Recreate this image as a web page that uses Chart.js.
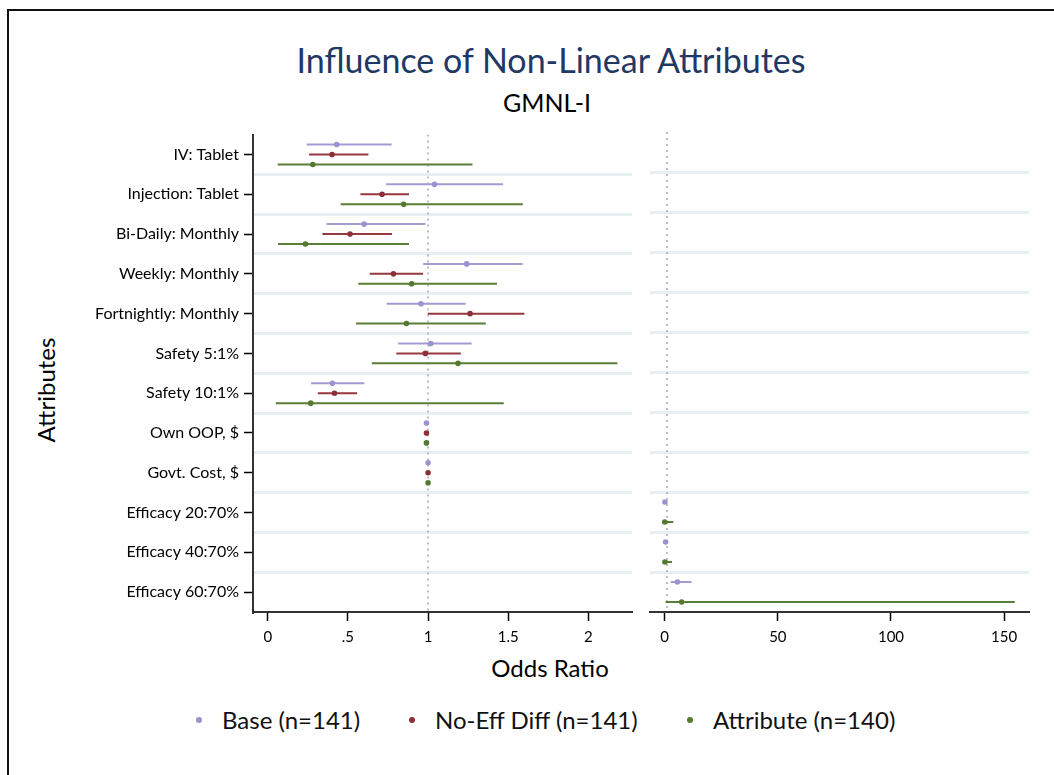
<!DOCTYPE html>
<html><head><meta charset="utf-8">
<script src="https://cdn.jsdelivr.net/npm/chart.js@4.4.0/dist/chart.umd.min.js"></script>
<style>
html,body{margin:0;padding:0;background:#fff;width:1054px;height:775px;overflow:hidden;font-family:Lato,sans-serif;color:#000;}
#frame{position:absolute;left:7px;top:9px;width:1100px;height:800px;border:2px solid #111;box-sizing:border-box;}
.t{position:absolute;white-space:nowrap;transform:translate(-50%,-50%);line-height:1;}
.wrap{position:absolute;}
.lg{position:absolute;white-space:nowrap;transform:translateY(-50%);font-size:24px;line-height:1;color:#111;}
.dot{position:absolute;width:6px;height:6px;border-radius:50%;transform:translate(-50%,-50%);}
</style></head><body>
<div id="frame"></div>
<div class="t" style="left:551px;top:60px;font-size:34px;color:#1f3864;">Influence of Non-Linear Attributes</div>
<div class="t" style="left:547px;top:102px;font-size:25px;">GMNL-I</div>
<div class="t" style="left:46px;top:390px;font-size:24px;transform:translate(-50%,-50%) rotate(-90deg);">Attributes</div>
<div class="t" style="left:550px;top:668px;font-size:24px;">Odds Ratio</div>
<div id="legend"></div>
<div class="wrap" style="left:60px;top:120px;width:585px;height:532px"><canvas id="c1"></canvas></div>
<div class="wrap" style="left:640px;top:120px;width:414px;height:532px"><canvas id="c2"></canvas></div>
<script>
// ---- data ----
const categories = ['IV: Tablet','Injection: Tablet','Bi-Daily: Monthly','Weekly: Monthly','Fortnightly: Monthly','Safety 5:1%','Safety 10:1%','Own OOP, $','Govt. Cost, $','Efficacy 20:70%','Efficacy 40:70%','Efficacy 60:70%'];
const seriesNames = ['Base (n=141)','No-Eff Diff (n=141)','Attribute (n=140)'];

const baseOR = [0.430, 1.040, 0.601, 1.241, 0.956, 1.017, 0.403, 0.99, 1.00, 0.1, 0.4, 5.6];
const baseLo = [0.243, 0.738, 0.366, 0.969, 0.742, 0.813, 0.270, 0.99, 1.00, 0.1, 0.4, 2.6];
const baseHi = [0.773, 1.468, 0.983, 1.591, 1.235, 1.272, 0.603, 0.99, 1.00, 0.1, 0.4, 11.9];

const noEffOR = [0.401, 0.713, 0.513, 0.784, 1.262, 0.983, 0.416, 0.99, 1.00, null, null, null];
const noEffLo = [0.258, 0.578, 0.341, 0.636, 0.998, 0.802, 0.312, 0.99, 1.00, null, null, null];
const noEffHi = [0.628, 0.881, 0.775, 0.969, 1.601, 1.204, 0.557, 0.99, 1.00, null, null, null];

const attrOR = [0.281, 0.848, 0.235, 0.898, 0.865, 1.187, 0.268, 0.99, 1.00, 0.02, 0.1, 7.5];
const attrLo = [0.062, 0.455, 0.064, 0.565, 0.551, 0.649, 0.050, 0.99, 1.00, 0.0, 0.0, 0.4];
const attrHi = [1.277, 1.591, 0.881, 1.430, 1.360, 2.181, 1.472, 0.99, 1.00, 3.8, 3.2, 154.7];

const leftRows = [0,1,2,3,4,5,6,7,8];
const rightRows = [9,10,11];
const leftTickValues = [0, 0.5, 1, 1.5, 2];
const leftTickLabels = ['0', '.5', '1', '1.5', '2'];
const rightTickValues = [0, 50, 100, 150];
const rightTickLabels = ['0', '50', '100', '150'];
const referenceOR = 1;

// ---- styling ----
const series = [
  {name: seriesNames[0], color:'#9b93cf', line:'#a39cd4', or: baseOR, lo: baseLo, hi: baseHi, off:-0.25},
  {name: seriesNames[1], color:'#8e2f37', line:'#953840', or: noEffOR, lo: noEffLo, hi: noEffHi, off:0},
  {name: seriesNames[2], color:'#55792f', line:'#5a7e35', or: attrOR, lo: attrLo, hi: attrHi, off:0.25}
];

Chart.defaults.font.family = 'Lato, sans-serif';
Chart.defaults.color = '#000';

function buildDatasets(rows) {
  const ds = [{
    type:'line', data:[{x:referenceOR,y:-0.5},{x:referenceOR,y:categories.length-0.5}],
    borderColor:'#a6a6b8', borderWidth:1.5, borderDash:[2,4], pointRadius:0, order:10
  }];
  series.forEach(s => {
    const ci = [], pts = [];
    rows.forEach(i => {
      if (s.or[i] == null) return;
      const y = i + s.off;
      ci.push({x:s.lo[i], y}, {x:s.hi[i], y}, {x:null, y:null});
      pts.push({x:s.or[i], y});
    });
    ds.push({type:'line', data:ci, borderColor:s.line, borderWidth:2, pointRadius:0, spanGaps:false, order:5});
    ds.push({type:'scatter', data:pts, backgroundColor:s.color, borderColor:s.color, pointRadius:2.8, pointBorderWidth:0, order:1});
  });
  return ds;
}

function makeChart(id, rows, xMin, xMax, tickVals, tickLabels, isLeft, axisWidth, padRight) {
  const halfTicks = [];
  for (let k = 0; k <= (categories.length - 1) * 2; k++) halfTicks.push({value: k / 2});
  return new Chart(document.getElementById(id), {
    type:'scatter',
    data:{datasets: buildDatasets(rows)},
    options:{
      responsive:true, maintainAspectRatio:false, animation:false,
      layout:{padding:{top:12, right:padRight, left:0, bottom:0}},
      plugins:{legend:{display:false}, tooltip:{enabled:false}},
      scales:{
        x:{
          type:'linear', min:xMin, max:xMax,
          afterBuildTicks: s => { s.ticks = tickVals.map(v => ({value:v})); },
          afterFit: s => { s.height = 40; },
          ticks:{ callback: (v) => { const k = tickVals.indexOf(v); return k >= 0 ? tickLabels[k] : ''; },
                  font:{size:15}, padding:7, maxRotation:0, autoSkip:false, color:'#000' },
          grid:{ drawOnChartArea:false, drawTicks:true, tickLength:9, tickColor:'#000', tickWidth:1.5 },
          border:{ display:true, color:'#333', width:2 }
        },
        y:{
          type:'linear', reverse:true, min:-0.5, max:categories.length - 0.5,
          afterBuildTicks: s => { s.ticks = halfTicks.map(t => ({value:t.value})); },
          afterFit: s => { s.width = axisWidth; },
          ticks:{ display:isLeft, autoSkip:false, padding:5, font:{size:16}, color:'#000',
                  callback: (v) => (Number.isInteger(v) ? categories[v] : '') },
          grid:{
            drawOnChartArea:true, drawTicks:isLeft, tickLength:9, tickWidth:1.5, lineWidth:3,
            color: c => (c.tick && c.tick.value % 1 !== 0) ? '#e8eff1' : 'rgba(0,0,0,0)',
            tickColor: c => (c.tick && c.tick.value % 1 === 0) ? '#000' : 'rgba(0,0,0,0)'
          },
          border:{ display:isLeft, color:'#333', width:2 }
        }
      }
    }
  });
}

makeChart('c1', leftRows, -0.092, 2.272, leftTickValues, leftTickLabels, true, 193, 13);
makeChart('c2', rightRows, -6.5, 161, rightTickValues, rightTickLabels, false, 10, 25);

// legend
const legendX = [199, 412, 690];
const lg = document.getElementById('legend');
series.forEach((s, k) => {
  const d = document.createElement('div'); d.className = 'dot';
  d.style.left = legendX[k] + 'px'; d.style.top = '720px'; d.style.background = s.color;
  lg.appendChild(d);
  const t = document.createElement('div'); t.className = 'lg';
  t.style.left = (legendX[k] + 23) + 'px'; t.style.top = '720px'; t.textContent = s.name;
  lg.appendChild(t);
});
</script>
</body></html>
